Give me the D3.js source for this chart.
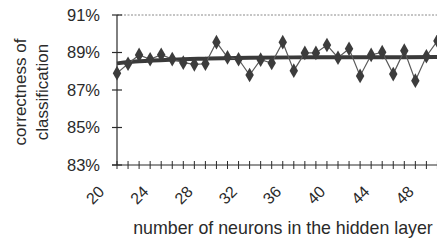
<!DOCTYPE html>
<html><head><meta charset="utf-8">
<script src="https://cdn.jsdelivr.net/npm/d3@7"></script>
<style>
html,body{margin:0;padding:0;background:#fff;}
svg{display:block;font-family:"Liberation Sans",Arial,sans-serif;}
</style></head>
<body><svg id="c" width="437" height="240"></svg>
<script>
const neurons = d3.range(20, 50);
const correctness = [87.90, 88.40, 88.87, 88.64, 88.88, 88.65, 88.46, 88.37, 88.40, 89.55,
                     88.74, 88.64, 87.80, 88.62, 88.44, 89.55, 88.03, 88.98, 88.98, 89.40,
                     88.72, 89.20, 87.75, 88.87, 89.02, 87.85, 89.10, 87.50, 88.80, 89.62];
const trendX = [20, 22, 25, 28, 32, 36, 40, 44, 49];
const trendY = [88.42, 88.53, 88.62, 88.67, 88.72, 88.74, 88.75, 88.75, 88.76];
const yTicks = [83, 85, 87, 89, 91];
const xLabels = [20, 24, 28, 32, 36, 40, 44, 48];

const svg = d3.select("#c");
const x = d3.scaleLinear().domain([20, 50]).range([117, 448.5]);
const y = d3.scaleLinear().domain([83, 91]).range([165, 15]);
const ink = "#2a2a2a";

// top dashed line at 91%
svg.append("line").attr("x1", x(20)).attr("x2", 437).attr("y1", y(91)).attr("y2", y(91))
  .attr("stroke", "#8a8a8a").attr("stroke-width", 1).attr("stroke-dasharray", "2,1.5");

// y axis
svg.append("line").attr("x1", x(20)).attr("x2", x(20)).attr("y1", y(91)).attr("y2", y(83))
  .attr("stroke", ink).attr("stroke-width", 1.2);
svg.selectAll(".yt").data(yTicks).enter().append("line")
  .attr("x1", x(20) - 5).attr("x2", x(20) + 5).attr("y1", d => y(d)).attr("y2", d => y(d))
  .attr("stroke", ink).attr("stroke-width", 1.2);
svg.selectAll(".yl").data(yTicks).enter().append("text")
  .attr("x", 100).attr("y", d => y(d)).attr("dy", "0.36em").attr("text-anchor", "end")
  .attr("font-size", 16.5).attr("fill", ink).text(d => d + "%");

// x axis
svg.append("line").attr("x1", x(20) - 5).attr("x2", 437).attr("y1", y(83)).attr("y2", y(83))
  .attr("stroke", ink).attr("stroke-width", 1.2);
svg.selectAll(".xt").data(d3.range(20, 51)).enter().append("line")
  .attr("x1", d => x(d)).attr("x2", d => x(d)).attr("y1", y(83) - 4).attr("y2", y(83) + 4)
  .attr("stroke", ink).attr("stroke-width", 1);
svg.selectAll(".xl").data(xLabels).enter().append("text")
  .attr("transform", d => `translate(${x(d) - 22},${y(83) + 30}) rotate(-45)`)
  .attr("text-anchor", "middle").attr("dy", "0.36em")
  .attr("font-size", 16).attr("fill", ink).text(d => d);

// titles
svg.append("text").attr("x", 283).attr("y", 234).attr("text-anchor", "middle")
  .attr("font-size", 17.8).attr("fill", ink).text("number of neurons in the hidden layer");
const yt = svg.append("text").attr("transform", "translate(0,92) rotate(-90)")
  .attr("text-anchor", "middle").attr("font-size", 17).attr("fill", ink);
yt.append("tspan").attr("x", 0).attr("y", 26).text("correctness of");
yt.append("tspan").attr("x", 0).attr("y", 48).text("classification");

// trend line
const trend = trendX.map((v, i) => [v, trendY[i]]);
svg.append("path").datum(trend)
  .attr("d", d3.line().x(d => x(d[0])).y(d => y(d[1])).curve(d3.curveMonotoneX))
  .attr("fill", "none").attr("stroke", "#3a3a3a").attr("stroke-width", 4);

// data line
const pts = neurons.map((n, i) => [n, correctness[i]]);
svg.append("path").datum(pts)
  .attr("d", d3.line().x(d => x(d[0])).y(d => y(d[1])))
  .attr("fill", "none").attr("stroke", "#5a5a5a").attr("stroke-width", 1.2);

// markers
svg.selectAll(".pt").data(pts).enter().append("path")
  .attr("transform", d => `translate(${x(d[0])},${y(d[1])})`)
  .attr("d", d3.symbol().type(d3.symbolDiamond).size(62))
  .attr("fill", "#3c3c3c");
</script>
</body></html>
